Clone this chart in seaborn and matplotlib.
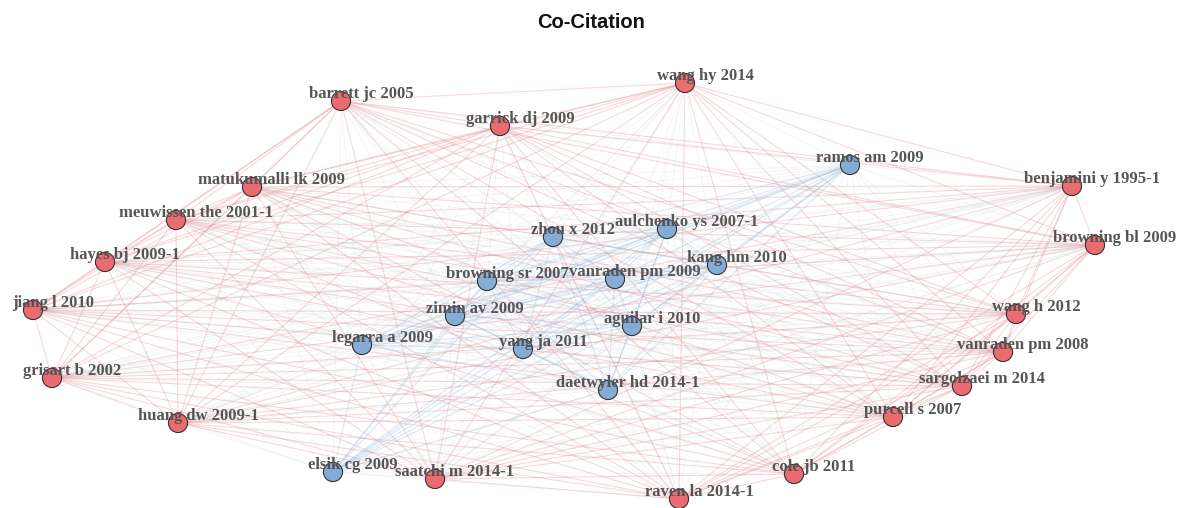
import itertools
import numpy as np
import pandas as pd
import matplotlib
matplotlib.use("Agg")
import matplotlib.pyplot as plt
from matplotlib.collections import LineCollection
import seaborn as sns

# ---- data: node labels, layout coordinates (pixel space), cluster ----
red_labels = ["barrett jc 2005", "garrick dj 2009", "wang hy 2014", "matukumalli lk 2009",
              "meuwissen the 2001-1", "hayes bj 2009-1", "benjamini y 1995-1", "browning bl 2009",
              "jiang l 2010", "grisart b 2002", "huang dw 2009-1", "wang h 2012",
              "vanraden pm 2008", "sargolzaei m 2014", "purcell s 2007", "cole jb 2011",
              "raven la 2014-1", "saatchi m 2014-1"]
red_x = [341, 500, 685, 252, 176, 105, 1072, 1095, 33, 52, 178, 1016, 1003, 962, 893, 794, 679, 435]
red_y = [101, 126, 83, 187, 220, 262, 186, 245, 310, 378, 423, 314, 352, 386, 417, 474, 499, 479]

blue_labels = ["ramos am 2009", "aulchenko ys 2007-1", "zhou x 2012", "kang hm 2010",
               "browning sr 2007", "vanraden pm 2009", "zimin av 2009", "aguilar i 2010",
               "legarra a 2009", "yang ja 2011", "daetwyler hd 2014-1", "elsik cg 2009"]
blue_x = [850, 667, 553, 717, 487, 615, 455, 632, 362, 523, 608, 333]
blue_y = [165, 229, 237, 265, 281, 279, 316, 326, 345, 349, 390, 472]

title = "Co-Citation"

nodes = pd.DataFrame({
    "label": red_labels + blue_labels,
    "x": red_x + blue_x,
    "y": red_y + blue_y,
    "cluster": ["1"] * len(red_labels) + ["2"] * len(blue_labels),
})

node_colors = {"1": "#EA6B70", "2": "#84ACD5"}
edge_colors = {"1": (0.88, 0.50, 0.52, 0.30), "2": (0.55, 0.72, 0.86, 0.32)}
cross_color = (0.72, 0.76, 0.82, 0.16)

sns.set_theme(style="white")
plt.rcParams["font.family"] = ["Liberation Serif", "DejaVu Serif"]

fig = plt.figure(figsize=(11.82, 5.08), dpi=100)
ax = fig.add_axes([0, 0, 1, 1])

# edges: every pair of nodes
segs_same, cols_same, segs_cross = [], [], []
for i, j in itertools.combinations(range(len(nodes)), 2):
    a, b = nodes.iloc[i], nodes.iloc[j]
    seg = [(a.x, a.y), (b.x, b.y)]
    if a.cluster == b.cluster:
        segs_same.append(seg)
        cols_same.append(edge_colors[a.cluster])
    else:
        segs_cross.append(seg)
ax.add_collection(LineCollection(segs_cross, colors=[cross_color], linewidths=0.7, zorder=1))
ax.add_collection(LineCollection(segs_same, colors=cols_same, linewidths=0.8, zorder=2))

sns.scatterplot(data=nodes, x="x", y="y", hue="cluster", palette=node_colors,
                s=190, edgecolor="#333333", linewidth=0.8, legend=False, ax=ax, zorder=3)

for _, r in nodes.iterrows():
    ax.text(r.x + 20, r.y - 7, r.label, fontsize=12, fontweight="bold",
            color="#555555", ha="center", va="center", zorder=4)

fig.text(0.5, 1 - 22 / 508, title, ha="center", va="center", fontsize=14.5,
         fontweight="bold", family="Liberation Sans", color="#111111")

ax.set_xlim(0, 1182)
ax.set_ylim(508, 0)
ax.axis("off")

fig.savefig("out.png", dpi=100)
